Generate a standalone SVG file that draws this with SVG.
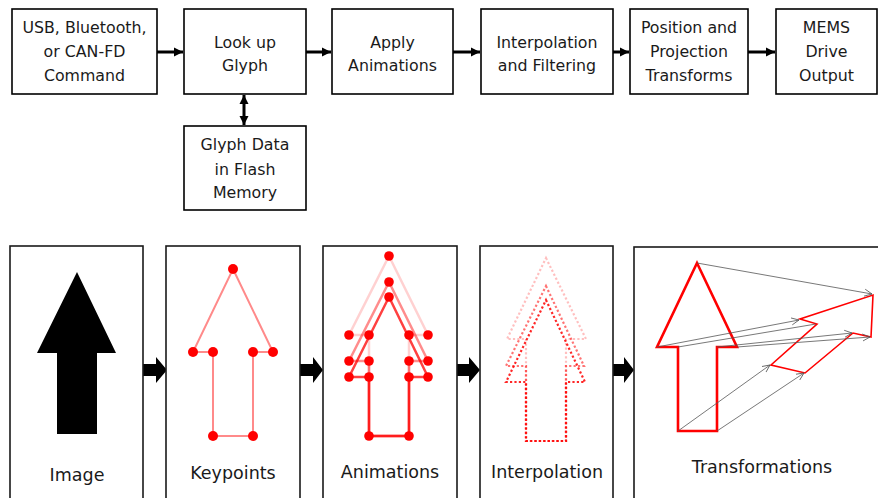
<svg xmlns="http://www.w3.org/2000/svg" width="878" height="498" viewBox="0 0 878 498">
<style>
.box{fill:#fff;stroke:#000;stroke-width:1.6}
.panel{fill:#fff;stroke:#1a1a1a;stroke-width:1.6}
.t{font-family:"DejaVu Sans","Liberation Sans",sans-serif;font-size:15.8px;fill:#1a1a1a;text-anchor:middle}
.lbl{font-family:"DejaVu Sans","Liberation Sans",sans-serif;font-size:17.5px;fill:#1a1a1a;text-anchor:middle}
.conn{stroke:#000;stroke-width:3;fill:none}
.fat{fill:#000}
.kp{fill:#ff0000}
.gray{stroke:#555;stroke-width:0.8;fill:none}
</style>
<defs>
<marker id="ah" markerUnits="userSpaceOnUse" markerWidth="10" markerHeight="10" refX="9" refY="4.5" orient="auto-start-reverse" viewBox="0 0 10 9">
<path d="M0,0 L9,4.5 L0,9 Z" fill="#000"/>
</marker>
<marker id="oh" markerUnits="userSpaceOnUse" markerWidth="9" markerHeight="9" refX="7.5" refY="4" orient="auto" viewBox="0 0 9 8">
<path d="M0,0.5 L7.5,4 L0,7.5" fill="none" stroke="#555" stroke-width="0.8"/>
</marker>
</defs>
<rect width="878" height="498" fill="#fff"/>

<g id="n-command"><rect class="box" x="12" y="9" width="145" height="85"/>
<text class="t" x="84.5" y="33">USB, Bluetooth,</text><text class="t" x="84.5" y="57">or CAN-FD</text><text class="t" x="84.5" y="81">Command</text></g>
<g id="n-lookup"><rect class="box" x="184" y="9" width="122" height="85"/>
<text class="t" x="245" y="48">Look up</text><text class="t" x="245" y="71">Glyph</text></g>
<g id="n-apply"><rect class="box" x="332" y="9" width="121" height="85"/>
<text class="t" x="392.5" y="48">Apply</text><text class="t" x="392.5" y="71">Animations</text></g>
<g id="n-interp"><rect class="box" x="481" y="9" width="132" height="85"/>
<text class="t" x="547" y="48">Interpolation</text><text class="t" x="547" y="71">and Filtering</text></g>
<g id="n-position"><rect class="box" x="630" y="9" width="118" height="85"/>
<text class="t" x="689" y="33">Position and</text><text class="t" x="689" y="57">Projection</text><text class="t" x="689" y="81">Transforms</text></g>
<g id="n-mems"><rect class="box" x="776" y="9" width="101" height="85"/>
<text class="t" x="826.5" y="33">MEMS</text><text class="t" x="826.5" y="57">Drive</text><text class="t" x="826.5" y="81">Output</text></g>
<g id="n-flash"><rect class="box" x="184" y="126" width="122" height="84"/>
<text class="t" x="245" y="150">Glyph Data</text><text class="t" x="245" y="175">in Flash</text><text class="t" x="245" y="198">Memory</text></g>

<g id="connectors">
<line class="conn" x1="157" y1="52" x2="183" y2="52" marker-end="url(#ah)"/>
<line class="conn" x1="306" y1="52" x2="331" y2="52" marker-end="url(#ah)"/>
<line class="conn" x1="453" y1="52" x2="480" y2="52" marker-end="url(#ah)"/>
<line class="conn" x1="613" y1="52" x2="629" y2="52" marker-end="url(#ah)"/>
<line class="conn" x1="748" y1="52" x2="775" y2="52" marker-end="url(#ah)"/>
<line class="conn" x1="244" y1="95" x2="244" y2="125" marker-start="url(#ah)" marker-end="url(#ah)"/>
<path class="fat" d="M143,364 H156 V357 L167,370 L156,383 V376 H143 Z"/>
<path class="fat" d="M300,364 H313 V357 L323,370 L313,383 V376 H300 Z"/>
<path class="fat" d="M457,364 H469 V357 L480,370 L469,383 V376 H457 Z"/>
<path class="fat" d="M613,364 H624 V357 L634,370 L624,383 V376 H613 Z"/>
</g>

<g id="p-image"><rect class="panel" x="10" y="246" width="133" height="270"/>
<path d="M77,272 L116,353 H97 V434 H57 V353 H37 Z" fill="#000"/>
<text class="lbl" x="77" y="481">Image</text></g>

<g id="p-keypoints"><rect class="panel" x="166" y="246" width="134" height="270"/>
<path d="M233,269 L273,352 H253 V436 H213 V352 H193 Z" fill="none" stroke="#ff8a8a" stroke-width="2"/>
<g class="kp"><circle cx="233" cy="269" r="5"/><circle cx="193" cy="352" r="5"/><circle cx="213" cy="352" r="5"/><circle cx="253" cy="352" r="5"/><circle cx="273" cy="352" r="5"/><circle cx="213" cy="436" r="5"/><circle cx="253" cy="436" r="5"/></g>
<text class="lbl" x="233" y="479">Keypoints</text></g>

<g id="p-animations"><rect class="panel" x="323" y="246" width="134" height="270"/>
<g fill="none" stroke="#ff0000" stroke-width="2.5">
<path d="M389,256 L428,335 H409 V436 H369 V335 H349 Z" stroke-opacity="0.18"/>
<path d="M389,282 L428,361 H409 V436 H369 V361 H349 Z" stroke-opacity="0.45"/>
<path d="M389,297 L428,377 H409 V436 H369 V377 H349 Z" stroke-opacity="0.75"/>
</g>
<g class="kp">
<circle cx="389" cy="256" r="4.8"/><circle cx="389" cy="282" r="4.8"/><circle cx="389" cy="297" r="4.8"/>
<circle cx="349" cy="335" r="4.8"/><circle cx="369" cy="335" r="4.8"/><circle cx="409" cy="335" r="4.8"/><circle cx="428" cy="335" r="4.8"/>
<circle cx="349" cy="361" r="4.8"/><circle cx="369" cy="361" r="4.8"/><circle cx="409" cy="361" r="4.8"/><circle cx="428" cy="361" r="4.8"/>
<circle cx="349" cy="377" r="4.8"/><circle cx="369" cy="377" r="4.8"/><circle cx="409" cy="377" r="4.8"/><circle cx="428" cy="377" r="4.8"/>
<circle cx="369" cy="436" r="4.8"/><circle cx="409" cy="436" r="4.8"/>
</g>
<text class="lbl" x="390" y="478">Animations</text></g>

<g id="p-interpolation"><rect class="panel" x="480" y="246" width="133" height="270"/>
<g fill="none" stroke="#ff0000" stroke-width="2.2" stroke-dasharray="2.2 2.2">
<path d="M546,258 L586,339 H566 V441 H526 V339 H507 Z" stroke-opacity="0.25"/>
<path d="M546,286 L584,366 H566 V441 H526 V366 H506 Z" stroke-opacity="0.55"/>
<path d="M546,300 L585,382 H566 V441 H526 V382 H506 Z" stroke-opacity="0.85"/>
</g>
<text class="lbl" x="547" y="478">Interpolation</text></g>

<g id="p-transformations"><rect class="panel" x="634" y="247" width="260" height="270"/>
<path d="M697,263 L737,347 H717 V431 H678 V347 H657 Z" fill="none" stroke="#ff0000" stroke-width="2.6"/>
<path d="M873,295 L871,337 L853,333 L805,373 L771,365 L817,324 L800,319 Z" fill="none" stroke="#ff0000" stroke-width="1.6"/>
<g class="gray">
<line x1="697" y1="263" x2="872" y2="294" marker-end="url(#oh)"/>
<line x1="657" y1="347" x2="799" y2="320" marker-end="url(#oh)"/>
<line x1="678" y1="347" x2="816" y2="324"/>
<line x1="737" y1="347" x2="870" y2="337" marker-end="url(#oh)"/>
<line x1="717" y1="347" x2="852" y2="333" marker-end="url(#oh)"/>
<line x1="678" y1="431" x2="770" y2="365" marker-end="url(#oh)"/>
<line x1="717" y1="431" x2="804" y2="373" marker-end="url(#oh)"/>
</g>
<text class="lbl" x="762" y="473">Transformations</text></g>
</svg>
